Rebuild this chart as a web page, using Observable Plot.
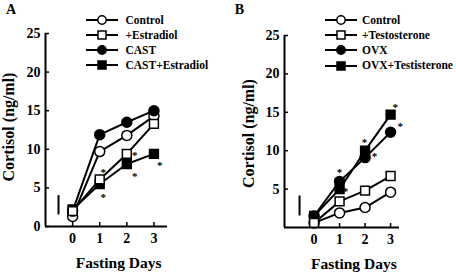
<!DOCTYPE html>
<html>
<head>
<meta charset="utf-8">
<script src="https://cdn.jsdelivr.net/npm/d3@7"></script>
<script src="https://cdn.jsdelivr.net/npm/@observablehq/plot@0.6"></script>
<style>
  html, body { margin: 0; padding: 0; background: white; }
  #wrap { position: relative; width: 456px; height: 272px; display: flex; font-family: 'Liberation Serif', 'Times New Roman', serif; font-weight: bold; }
  .panel { position: relative; width: 228px; height: 272px; }
  .legend { position: absolute; left: 0; top: 0; }
  .ltext { position: absolute; font-size: 11.5px; line-height: 12px; white-space: nowrap; color: black; }
</style>
</head>
<body>
<div id="wrap">
  <div class="panel" id="panelA"></div>
  <div class="panel" id="panelB"></div>
</div>
<script>
// ---- data ----
const days = [0, 1, 2, 3];
const xTicks = [0, 1, 2, 3];

const seriesA = ["Control", "+Estradiol", "CAST", "CAST+Estradiol"];
const controlA = [1.3, 9.7, 11.8, 14.3];
const estradiolA = [2.0, 6.1, 9.4, 13.3];
const castA = [2.0, 11.9, 13.5, 15.0];
const castEstradiolA = [2.2, 5.5, 8.1, 9.4];
const yTicksA = [0, 5, 10, 15, 20, 25];
const starXA = [1.13, 1.13, 2.29, 2.29, 3.21];
const starYA = [7.2, 4.0, 9.4, 6.7, 8.1];
const errorBarA = [1.5, 4.0];

const seriesB = ["Control", "+Testosterone", "OVX", "OVX+Testisterone"];
const controlB = [0.6, 1.9, 2.6, 4.6];
const testosteroneB = [0.6, 3.4, 4.8, 6.7];
const ovxB = [1.5, 6.0, 9.1, 12.4];
const ovxTestB = [1.5, 5.0, 10.0, 14.7];
const yTicksB = [5, 10, 15, 20, 25];
const starXB = [1.0, 1.23, 1.98, 2.37, 3.18, 3.38];
const starYB = [7.4, 4.9, 11.3, 9.5, 15.9, 13.4];
const errorBarB = [1.5, 4.1];

const yLabel = "Cortisol (ng/ml)";
const xLabel = "Fasting Days";

// marker style per series position: open circle, open square, filled circle, filled square
const shapes = ["circle", "square", "circle", "square"];
const fills = ["white", "white", "black", "black"];
const drawOrder = [0, 2, 3, 1];

function buildRows(names, valueLists) {
  return names.map((name, i) => days.map((d, j) => ({series: name, idx: i, day: d, value: valueLists[i][j]}))).flat();
}

function panel(cfg) {
  const rows = buildRows(cfg.series, cfg.values);
  const stars = cfg.starX.map((x, i) => ({x, y: cfg.starY[i]}));
  const marks = [
    Plot.ruleX([cfg.xDomain[0]], {stroke: "black", strokeWidth: 2}),
    Plot.ruleY([0], {stroke: "black", strokeWidth: 2}),
    Plot.axisY({ticks: cfg.yTicks, tickSize: -4, tickPadding: 9, fontSize: 14, strokeWidth: 1.5, label: null, tickFormat: d => d, fill: "black"}),
    Plot.axisX({ticks: xTicks, tickSize: -4, tickPadding: 11, fontSize: 14, strokeWidth: 1.5, label: null, tickFormat: d => d, fill: "black"}),
    Plot.ruleX([cfg.errX], {y1: cfg.err[0], y2: cfg.err[1], stroke: "black", strokeWidth: 2}),
    Plot.line(rows, {x: "day", y: "value", z: "series", stroke: "black", strokeWidth: 2})
  ];
  for (const i of drawOrder) {
    marks.push(Plot.dot(rows.filter(d => d.idx === i), {
      x: "day", y: "value", r: 5, symbol: shapes[i], fill: fills[i], stroke: "black", strokeWidth: 1.5
    }));
  }
  marks.push(
    Plot.text(stars, {x: "x", y: "y", text: () => "*", fontSize: 11, dy: 2, fill: "black"}),
    Plot.text([yLabel], {text: d => d, frameAnchor: "left", textAnchor: "middle", lineAnchor: "middle", rotate: -90, dx: cfg.yLabelDx, dy: cfg.yLabelDy, fontSize: 16, fill: "black"}),
    Plot.text([xLabel], {text: d => d, x: [cfg.xLabelX], frameAnchor: "bottom", textAnchor: "middle", lineAnchor: "middle", dy: 36.5, fontSize: 15.5, fill: "black"}),
    Plot.text([cfg.letter], {text: d => d, frameAnchor: "top-left", textAnchor: "middle", lineAnchor: "middle", dx: cfg.letterDx, dy: cfg.letterDy, fontSize: 14, fill: "black"})
  );
  const svg = Plot.plot({
    width: 228, height: 272,
    marginLeft: cfg.marginLeft, marginRight: cfg.marginRight, marginTop: cfg.marginTop, marginBottom: cfg.marginBottom,
    style: {fontFamily: "'Liberation Serif', 'Times New Roman', serif", fontWeight: "bold", background: "white", color: "black", overflow: "visible"},
    x: {domain: cfg.xDomain},
    y: {domain: [0, 25]},
    marks
  });
  const el = document.getElementById(cfg.el);
  el.appendChild(svg);

  // legend
  const leg = document.createElement("div");
  leg.className = "legend";
  cfg.series.forEach((name, i) => {
    const rowY = cfg.legendRows[i];
    const w = cfg.legendLineX2 - cfg.legendLineX1;
    const s = d3.create("svg").attr("width", w).attr("height", 12)
      .style("position", "absolute").style("left", cfg.legendLineX1 + "px").style("top", (rowY - 6) + "px");
    s.append("line").attr("x1", 0).attr("x2", w).attr("y1", 6).attr("y2", 6).attr("stroke", "black").attr("stroke-width", 2);
    const cx = w / 2;
    if (shapes[i] === "circle") {
      s.append("circle").attr("cx", cx).attr("cy", 6).attr("r", 4.2).attr("fill", fills[i]).attr("stroke", "black").attr("stroke-width", 1.5);
    } else {
      s.append("rect").attr("x", cx - 4).attr("y", 2).attr("width", 8).attr("height", 8).attr("fill", fills[i]).attr("stroke", "black").attr("stroke-width", 1.5);
    }
    leg.appendChild(s.node());
    const t = document.createElement("div");
    t.className = "ltext";
    t.textContent = name;
    t.style.left = cfg.legendTextX + "px";
    t.style.top = (rowY - 6.5) + "px";
    leg.appendChild(t);
  });
  el.appendChild(leg);
}

panel({
  el: "panelA", series: seriesA, values: [controlA, estradiolA, castA, castEstradiolA],
  yTicks: yTicksA, starX: starXA, starY: starYA, errX: -0.52, err: errorBarA,
  xDomain: [-1, 3.5], marginLeft: 45, marginRight: 61, marginTop: 33, marginBottom: 46,
  yLabelDx: -36.5, yLabelDy: -3, xLabelX: 1.7, letter: "A", letterDx: -34.5, letterDy: -23.8,
  legendRows: [20, 35, 50, 65], legendLineX1: 86, legendLineX2: 118, legendTextX: 125.5
});
panel({
  el: "panelB", series: seriesB, values: [controlB, testosteroneB, ovxB, ovxTestB],
  yTicks: yTicksB, starX: starXB, starY: starYB, errX: -0.57, err: errorBarB,
  xDomain: [-1.16, 3.35], marginLeft: 56, marginRight: 57, marginTop: 35, marginBottom: 45,
  yLabelDx: -36, yLabelDy: 2, xLabelX: 1.56, letter: "B", letterDx: -45, letterDy: -26,
  legendRows: [20, 35, 50, 65.5], legendLineX1: 96.5, legendLineX2: 128.5, legendTextX: 134
});
</script>
</body>
</html>
